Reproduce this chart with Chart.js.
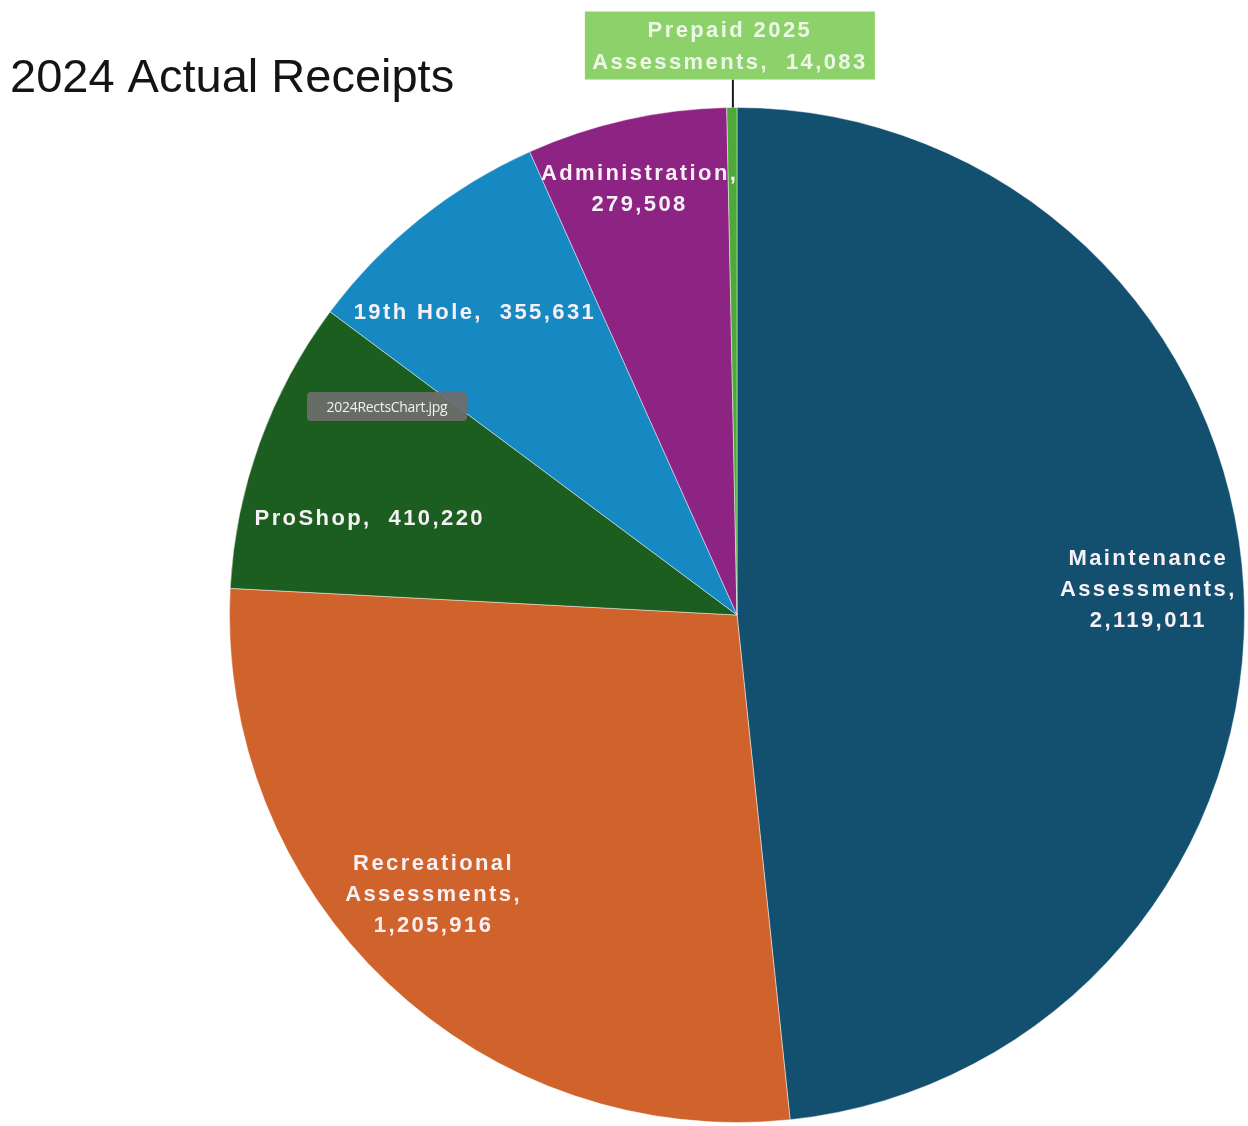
<!DOCTYPE html>
<html>
<head>
<meta charset="utf-8">
<script src="https://cdn.jsdelivr.net/npm/chart.js@4/dist/chart.umd.min.js"></script>
<style>
  html, body { margin: 0; padding: 0; background: #ffffff; }
  #wrap { position: relative; width: 1248px; height: 1126px; overflow: hidden; }
  #tag {
    position: absolute; left: 307px; top: 392px; width: 160px; height: 29px;
    background: rgba(110,110,110,0.92); border-radius: 4px; color: #f2f2f2;
    font-family: "Open Sans", "Noto Sans", sans-serif; font-size: 14px;
    line-height: 29px; text-align: center; letter-spacing: -0.3px;
  }
</style>
</head>
<body>
<div id="wrap">
  <canvas id="c" width="1248" height="1126"></canvas>
  <div id="tag">2024RectsChart.jpg</div>
</div>
<script>
const categories = ["Maintenance Assessments", "Recreational Assessments", "ProShop", "19th Hole", "Administration", "Prepaid 2025 Assessments"];
const receipts = [2119011, 1205916, 410220, 355631, 279508, 14083];
const labelLines = [
  ["Maintenance", "Assessments,", "2,119,011"],
  ["Recreational", "Assessments,", "1,205,916"],
  ["ProShop,  410,220"],
  ["19th Hole,  355,631"],
  ["Administration,", "279,508"],
  ["Prepaid 2025", "Assessments,  14,083"]
];
const titleText = "2024 Actual Receipts";

const colors = ["#13506F", "#D0622B", "#1B5E1F", "#1689C2", "#8D2383", "#4FA83A"];

// label placement relative to each slice: angle shift (deg) from slice middle, fraction of radius
const labelPlace = [
  { da: -0.5, rf: 0.81 },
  { da: 3.9, rf: 0.815 },
  { da: -5.2, rf: 0.75 },
  { da: -2.3, rf: 0.79 },
  { da: -0.4, rf: 0.86 },
  null
];

const labelPlugin = {
  id: 'sliceLabels',
  afterDraw(chart) {
    const ctx = chart.ctx;
    const meta = chart.getDatasetMeta(0);
    ctx.save();
    // title
    ctx.fillStyle = "#141414";
    ctx.font = "47px 'Liberation Sans', Arial, sans-serif";
    ctx.textAlign = "left";
    ctx.textBaseline = "alphabetic";
    ctx.fillText(titleText, 10, 92);

    ctx.font = "bold 22px 'Liberation Sans', Arial, sans-serif";
    ctx.letterSpacing = "2.4px";
    ctx.textAlign = "center";
    ctx.textBaseline = "middle";
    const lh = 31;
    meta.data.forEach((arc, i) => {
      const p = arc.getProps(['x', 'y', 'startAngle', 'endAngle', 'outerRadius'], true);
      const mid = (p.startAngle + p.endAngle) / 2;
      const place = labelPlace[i];
      const lines = labelLines[i];
      if (place) {
        const a = mid + place.da * Math.PI / 180;
        const r = p.outerRadius * place.rf;
        const cx = p.x + Math.cos(a) * r;
        const cy = p.y + Math.sin(a) * r;
        ctx.fillStyle = "#f7f1f6";
        lines.forEach((t, k) => {
          ctx.fillText(t, cx + 1, cy + (k - (lines.length - 1) / 2) * lh);
        });
      } else {
        // callout for the thin slice
        const ex = p.x + Math.cos(mid) * p.outerRadius;
        const ey = p.y + Math.sin(mid) * p.outerRadius;
        const boxW = 290, boxH = 68;
        const bx = ex - 2 - boxW / 2;
        const by = ey - 28 - boxH;
        ctx.strokeStyle = "#1a1a1a";
        ctx.lineWidth = 2;
        ctx.beginPath();
        ctx.moveTo(ex + 1, ey);
        ctx.lineTo(ex + 1, by + boxH);
        ctx.stroke();
        ctx.fillStyle = "#8DD16B";
        ctx.fillRect(bx, by, boxW, boxH);
        ctx.fillStyle = "#eef8e8";
        ctx.font = "bold 22px 'Liberation Sans', Arial, sans-serif";
        ctx.fillText(lines[0], bx + boxW / 2, by + 19);
        ctx.fillText(lines[1], bx + boxW / 2, by + 51);
      }
    });
    ctx.restore();
  }
};

new Chart(document.getElementById('c'), {
  type: 'pie',
  data: {
    labels: categories,
    datasets: [{
      data: receipts,
      backgroundColor: colors,
      borderColor: "rgba(255,255,255,0.45)",
      borderWidth: 1
    }]
  },
  options: {
    responsive: false,
    animation: false,
    devicePixelRatio: 1,
    layout: { padding: { left: 229, right: 3, top: 107, bottom: 3 } },
    plugins: {
      legend: { display: false },
      title: { display: false },
      tooltip: { enabled: false }
    }
  },
  plugins: [labelPlugin]
});
</script>
</body>
</html>
